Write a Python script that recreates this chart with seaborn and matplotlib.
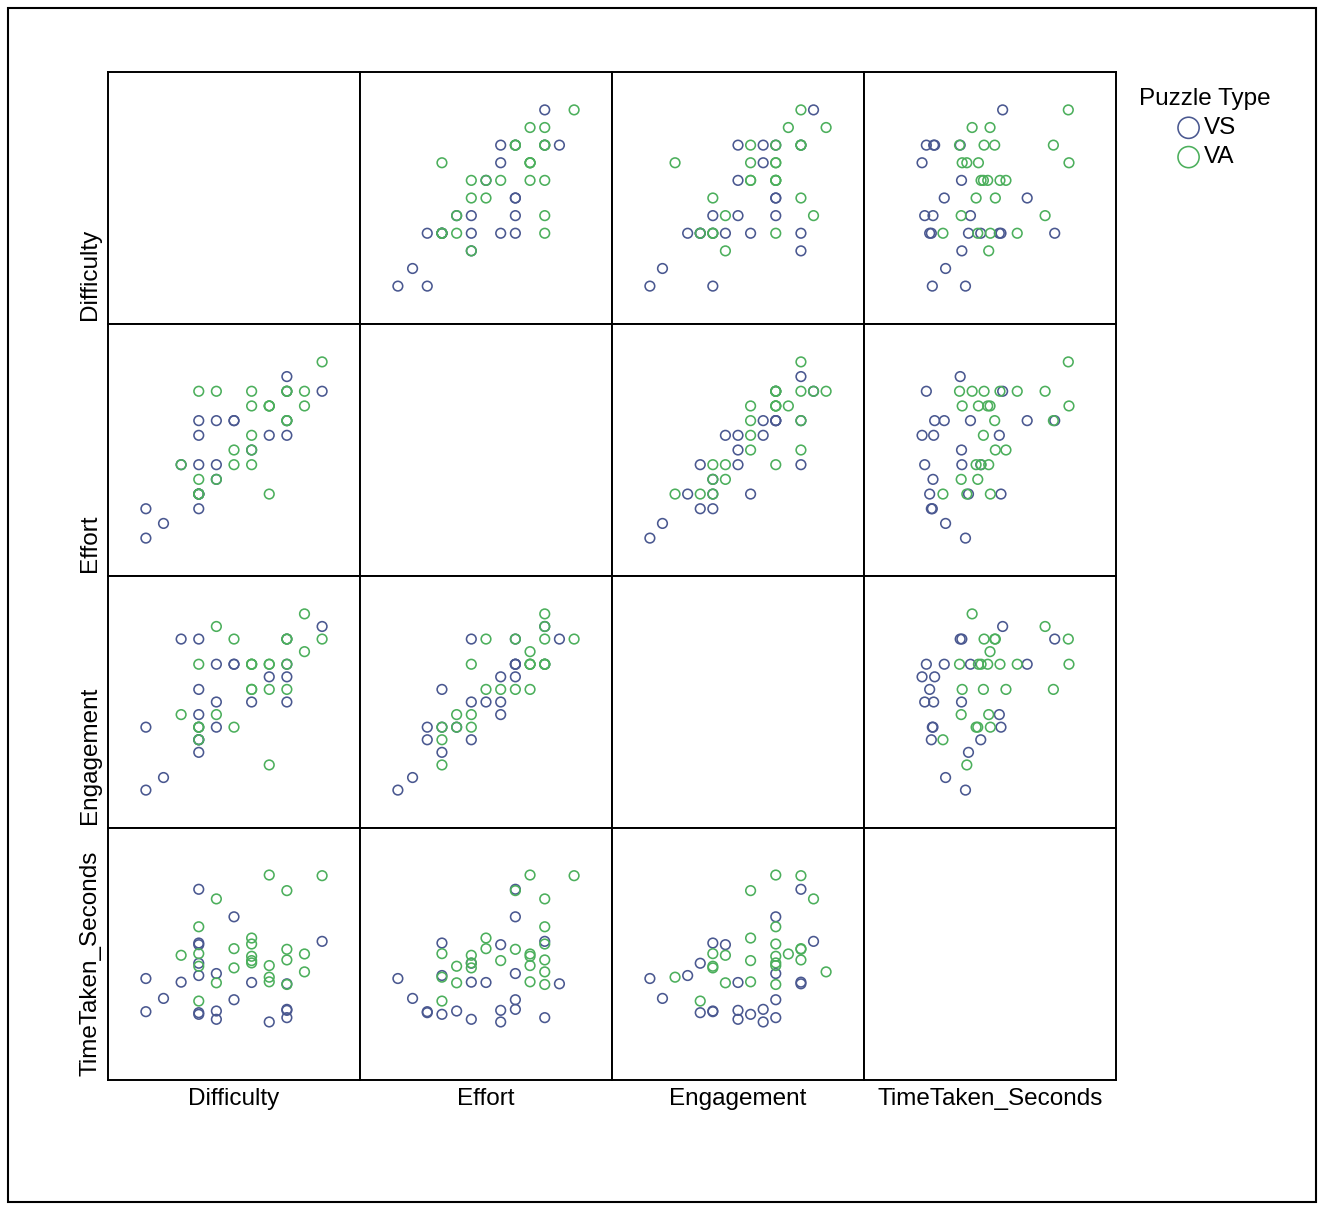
import matplotlib
matplotlib.use("Agg")
import matplotlib.pyplot as plt
import pandas as pd
import seaborn as sns
from matplotlib.patches import Rectangle

# one entry per participant
puzzle_type = ["VA", "VA", "VS", "VA", "VA", "VS", "VA", "VA", "VS", "VS",
               "VA", "VS", "VA", "VA", "VA", "VA", "VA", "VA", "VA", "VA",
               "VA", "VS", "VA", "VA", "VA", "VA", "VS", "VS", "VA", "VS",
               "VA", "VS", "VS", "VA", "VS", "VA", "VS", "VS", "VA", "VS",
               "VS", "VS", "VS", "VS", "VS", "VS", "VS", "VS"]
difficulty = [4.5, 6.0, 2.5, 5.0, 3.0, 3.5, 2.5, 4.0, 6.0, 2.5,
              4.0, 2.5, 3.5, 5.0, 5.5, 2.5, 2.0, 4.0, 5.0, 4.0,
              4.0, 2.5, 4.5, 2.5, 3.5, 5.5, 3.0, 2.5, 4.5, 1.0,
              4.5, 2.0, 4.0, 3.0, 5.0, 5.0, 1.5, 3.5, 2.5, 5.0,
              5.0, 3.0, 1.0, 2.5, 2.5, 5.0, 3.0, 4.5]
effort = [5.5, 7.0, 5.0, 5.0, 6.0, 5.0, 6.0, 4.0, 6.0, 2.5,
          6.0, 4.5, 4.0, 5.0, 5.5, 2.5, 3.5, 5.5, 6.0, 4.5,
          3.5, 3.5, 5.5, 3.0, 3.5, 6.0, 5.0, 2.5, 2.5, 1.0,
          5.5, 3.5, 4.0, 3.0, 6.5, 6.0, 1.5, 5.0, 2.5, 5.0,
          4.5, 3.0, 2.0, 2.0, 2.5, 6.0, 3.5, 4.5]
engagement = [6.0, 7.0, 7.0, 5.0, 7.5, 6.0, 6.0, 5.0, 7.5, 3.5,
              6.0, 4.0, 7.0, 7.0, 6.5, 3.5, 4.0, 6.0, 7.0, 5.0,
              6.0, 3.0, 6.0, 3.5, 3.5, 8.0, 6.0, 2.5, 2.0, 1.0,
              5.0, 7.0, 4.5, 4.0, 7.0, 6.0, 1.5, 6.0, 3.0, 5.5,
              4.5, 3.5, 3.5, 3.0, 5.0, 6.0, 4.5, 5.5]
time_taken = [255, 254, 233.5, 231.5, 219, 192, 177, 160, 155, 152.5,
              151, 150, 144, 143, 136, 136.5, 134, 132.5, 127, 126,
              122.5, 122, 118.5, 117.5, 115, 109, 106.5, 103.5, 101, 99,
              94, 93.5, 93, 92.5, 91, 90, 69, 67, 65, 52.5,
              51, 50, 49, 47.5, 45, 40, 37.5, 33.5]

df = pd.DataFrame({
    "Puzzle Type": puzzle_type,
    "Difficulty": difficulty,
    "Effort": effort,
    "Engagement": engagement,
    "TimeTaken_Seconds": time_taken,
})

sns.set_theme(style="white")
plt.rcParams["font.family"] = ["Liberation Sans", "DejaVu Sans"]
plt.rcParams["text.color"] = "black"
plt.rcParams["axes.labelcolor"] = "black"

variables = ["Difficulty", "Effort", "Engagement", "TimeTaken_Seconds"]
palette = {"VS": "#4a5890", "VA": "#4caf5c"}


def hollow_scatter(x, y, color=None, label=None, **kwargs):
    plt.scatter(x, y, s=48, facecolors="none", edgecolors=color,
                linewidths=1.15, label=label)


g = sns.PairGrid(df, vars=variables, hue="Puzzle Type", hue_order=["VS", "VA"],
                 palette=palette, height=2.52, despine=False)
g.map_offdiag(hollow_scatter)

# wide padding round the data, a bit uneven on the time axis
for i, var in enumerate(variables):
    lo, hi = df[var].min(), df[var].max()
    span = hi - lo
    if var == "TimeTaken_Seconds":
        lim = (lo - 0.395 * span, hi + 0.32 * span)
    else:
        lim = (lo - 0.215 * span, hi + 0.215 * span)
    g.axes[0, i].set_xlim(lim)
    g.axes[i, 0].set_ylim(lim)

for ax in g.axes.flat:
    ax.set_xticks([])
    ax.set_yticks([])
    for s in ax.spines.values():
        s.set_color("black")
        s.set_linewidth(1.4)

# y labels sit at the bottom of each row, x labels centred
for i, var in enumerate(variables):
    g.axes[i, 0].set_ylabel(var, loc="bottom", fontsize=17.5, labelpad=5)
    g.axes[-1, i].set_xlabel(var, fontsize=17.5, labelpad=6)
    g.axes[i, 0].yaxis.label.set_y(0.015)

fig = g.figure
fig.set_size_inches(13.25, 12.14)
fig.subplots_adjust(left=108 / 1325, right=1116 / 1325,
                    bottom=1 - 1080 / 1214, top=1 - 72 / 1214,
                    wspace=0, hspace=0)

handles, labels = g.axes[0, 1].get_legend_handles_labels()
fig.legend(handles, labels, title="Puzzle Type", loc="upper left",
           bbox_to_anchor=(1117 / 1325, 1 - 66 / 1214), frameon=False,
           fontsize=17.5, title_fontsize=17.5, markerscale=2.2,
           handletextpad=0.0, labelspacing=0.3, handlelength=1.3)

fig.add_artist(Rectangle((8 / 1325, 12 / 1214), 1308 / 1325, 1194 / 1214,
                         transform=fig.transFigure, fill=False,
                         edgecolor="black", linewidth=1.5))

fig.savefig("out.png", dpi=100)
